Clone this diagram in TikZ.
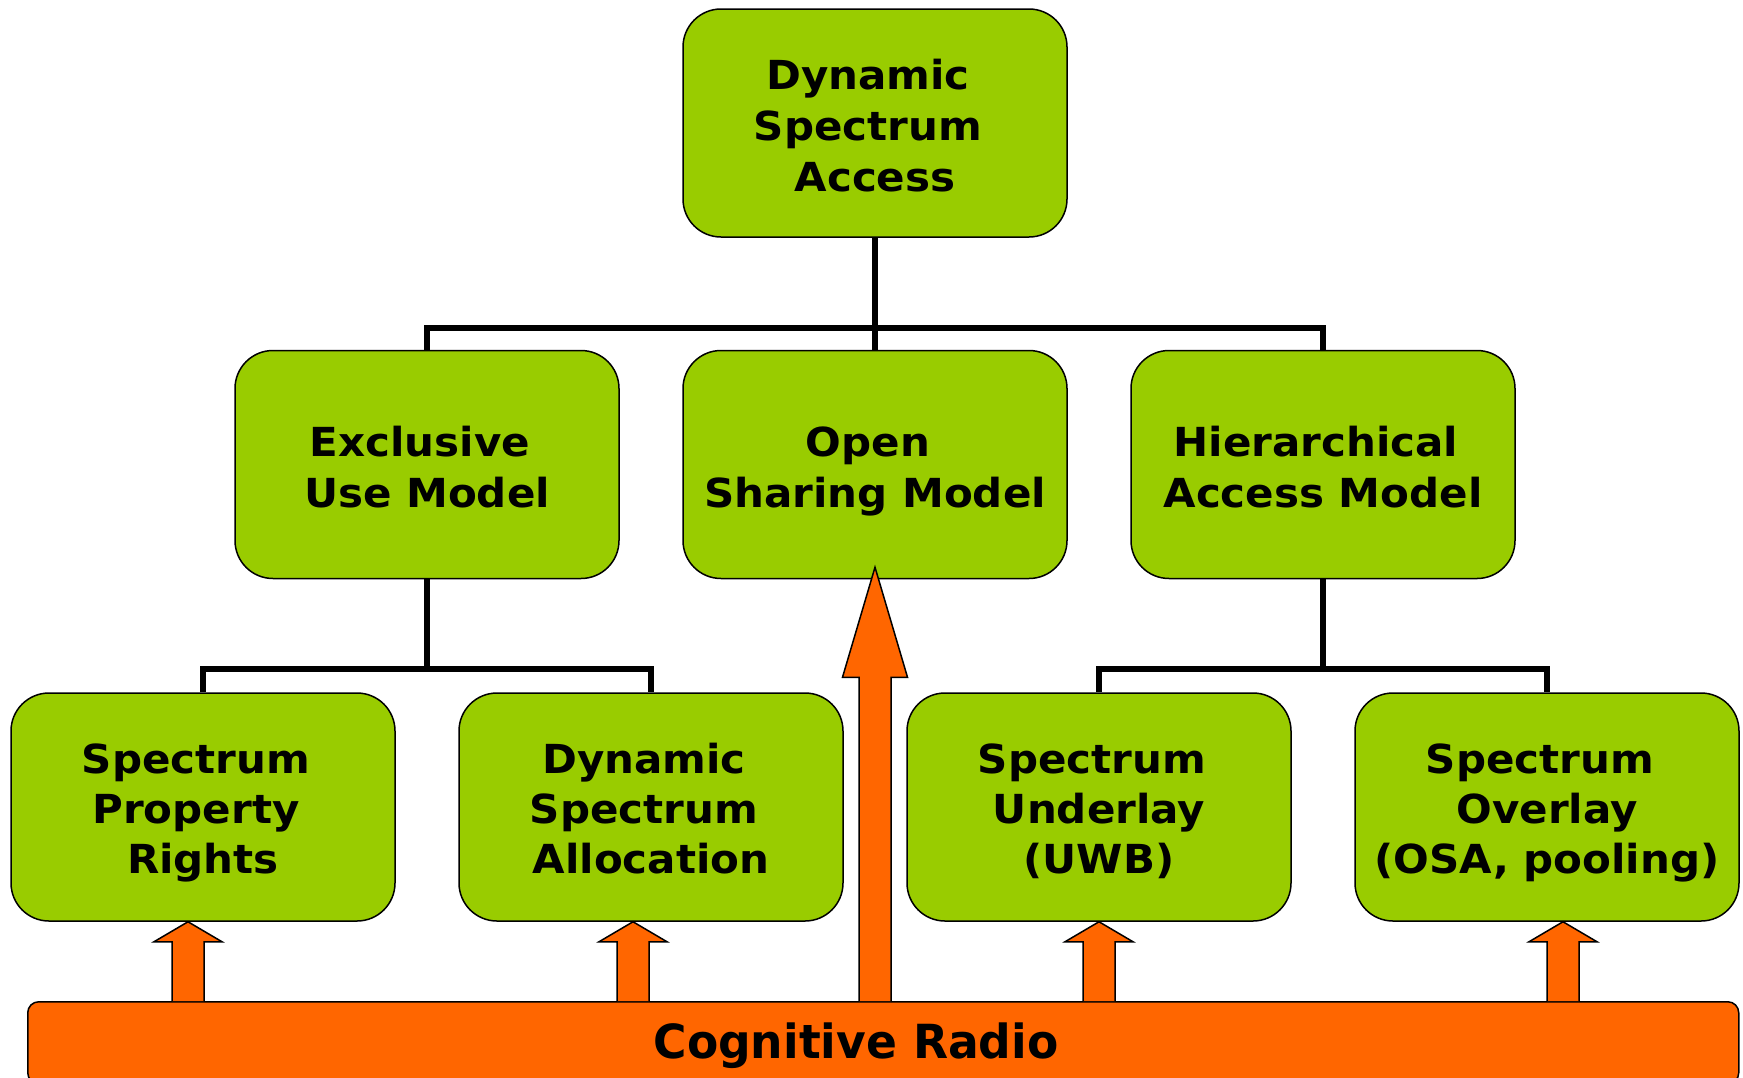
\documentclass[tikz,border=0pt]{standalone}
\usepackage{fontspec}
\usetikzlibrary{calc}
\newfontfamily\boxfont{DejaVu Sans}[FakeStretch=1.05]
\newfontfamily\barfont{DejaVu Sans}[FakeStretch=0.97]
\definecolor{leaf}{HTML}{99CC00}
\definecolor{flame}{HTML}{FF6600}
% trailing space kept at the end of a centred line
\newcommand\tsp{\kern0.35em}
% struts fixing the first and last line of a box label
\newcommand\hi[1]{\rule{0pt}{#1}}
\newcommand\lo{\rule[-12pt]{0pt}{12pt}}
% block arrow standing on the bar, open at its foot:
% #1 tip, #2 head length, #3 head half width
\newcommand\riser[3]{%
  \draw[push] ($(#1 |- cr.north)+(16,0)$) -- ($(#1)+(16,#2)$) -- ++(#3-16,0)
    -- (#1) -- ++(-#3,#2) -- ++(#3-16,0) -- ($(#1 |- cr.north)+(-16,0)$);}
\begin{document}
\begin{tikzpicture}[x=1pt,y=-1pt,
  model/.style={draw=black, line width=1.5pt, fill=leaf, rounded corners=38pt,
    minimum width=384pt, minimum height=228pt, inner sep=0pt, align=center,
    font=\boxfont\bfseries\fontsize{40}{51}\selectfont},
  lower/.style={model, font=\boxfont\bfseries\fontsize{40}{50}\selectfont},
  link/.style={line width=5.5pt},
  push/.style={draw=black, line width=1.5pt, fill=flame, line join=miter},
  barstyle/.style={draw=black, line width=1.5pt, fill=flame, rounded corners=11pt,
    minimum width=1711pt, minimum height=82pt, inner sep=0pt}]
\useasboundingbox (0,0) rectangle (1743,1077);

% model tree
\node[model] (dsa) at (875,123) {\hi{46pt}Dynamic\tsp\\Spectrum\tsp\\Access\lo};
\node[model] (excl) at (427,464.5) {\hi{46pt}Exclusive\tsp\\Use Model\lo};
\node[model] (open) at (875,464.5) {\hi{46pt}Open\tsp\\Sharing Model\lo};
\node[model] (hier) at (1323,464.5) {\hi{46pt}Hierarchical\tsp\\Access Model\lo};
\node[lower] (prop) at (203,807) {\hi{44pt}Spectrum\tsp\\Property\tsp\\Rights\lo};
\node[lower] (alloc) at (651,807) {\hi{44pt}Dynamic\tsp\\Spectrum\tsp\\Allocation\lo};
\node[lower] (under) at (1099,807) {\hi{44pt}Spectrum\tsp\\Underlay\\(UWB)\lo};
\node[lower] (over) at (1547,807) {\hi{44pt}Spectrum\tsp\\Overlay\\(OSA, pooling)\lo};

% tree connectors
\coordinate (busA) at (875,328);
\coordinate (busB) at (427,669);
\coordinate (busC) at (1323,669);
\draw[link] (dsa.south) -- (open.north);
\draw[link] (excl.north) |- (busA) -| (hier.north);
\draw[link] (excl.south) -- (busB);
\draw[link] (prop.north) |- (busB) -| (alloc.north);
\draw[link] (hier.south) -- (busC);
\draw[link] (under.north) |- (busC) -| (over.north);

% cognitive radio bar
\node[barstyle, anchor=north west] (cr) at (27,1001) {};
\node[anchor=base, inner sep=0pt,
  font=\barfont\bfseries\fontsize{47}{56}\selectfont] (crlabel) at (856,1058) {Cognitive Radio};

% arrows rising from the bar
\coordinate (t0) at ($(open.south)+(0,-12)$);
\coordinate (t1) at ($(prop.south)+(-15,0)$);
\coordinate (t2) at ($(alloc.south)+(-18,0)$);
\coordinate (t3) at ($(under.south)+(0,0)$);
\coordinate (t4) at ($(over.south)+(16,0)$);
\riser{t0}{110}{32.5}
\riser{t1}{20}{34}
\riser{t2}{20}{34}
\riser{t3}{20}{34}
\riser{t4}{20}{34}
\end{tikzpicture}
\end{document}
